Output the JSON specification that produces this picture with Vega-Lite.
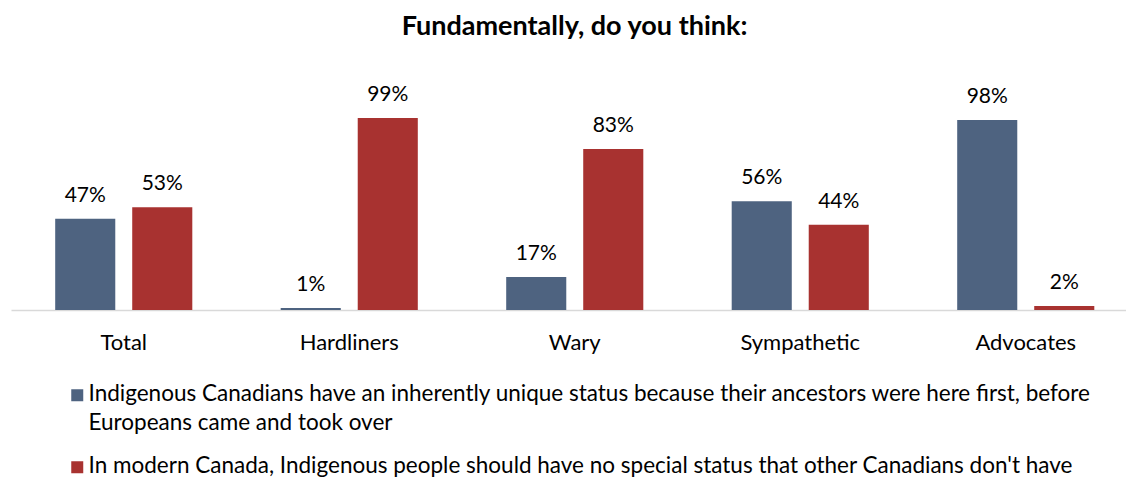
{
  "$schema": "https://vega.github.io/schema/vega-lite/v6.json",
  "autosize": "none",
  "width": 1115,
  "height": 194,
  "padding": {"left": 11, "top": 116, "right": 0, "bottom": 169},
  "background": "#ffffff",
  "title": {
    "text": "Fundamentally, do you think:",
    "frame": "group",
    "anchor": "middle",
    "baseline": "alphabetic",
    "offset": 22,
    "dx": 6,
    "font": "Lato",
    "fontSize": 27,
    "fontWeight": "bold",
    "color": "#000000"
  },
  "config": {
    "view": {"stroke": null},
    "style": {"guide-label": {"lineHeight": 29}}
  },
  "data": {
    "values": [
      {"group": "Total", "series": "Indigenous Canadians have an inherently unique status because their ancestors were here first, before Europeans came and took over", "pct": 0.47},
      {"group": "Total", "series": "In modern Canada, Indigenous people should have no special status that other Canadians don't have", "pct": 0.53},
      {"group": "Hardliners", "series": "Indigenous Canadians have an inherently unique status because their ancestors were here first, before Europeans came and took over", "pct": 0.01},
      {"group": "Hardliners", "series": "In modern Canada, Indigenous people should have no special status that other Canadians don't have", "pct": 0.99},
      {"group": "Wary", "series": "Indigenous Canadians have an inherently unique status because their ancestors were here first, before Europeans came and took over", "pct": 0.17},
      {"group": "Wary", "series": "In modern Canada, Indigenous people should have no special status that other Canadians don't have", "pct": 0.83},
      {"group": "Sympathetic", "series": "Indigenous Canadians have an inherently unique status because their ancestors were here first, before Europeans came and took over", "pct": 0.56},
      {"group": "Sympathetic", "series": "In modern Canada, Indigenous people should have no special status that other Canadians don't have", "pct": 0.44},
      {"group": "Advocates", "series": "Indigenous Canadians have an inherently unique status because their ancestors were here first, before Europeans came and took over", "pct": 0.98},
      {"group": "Advocates", "series": "In modern Canada, Indigenous people should have no special status that other Canadians don't have", "pct": 0.02}
    ]
  },
  "encoding": {
    "x": {
      "field": "group",
      "type": "nominal",
      "sort": ["Total", "Hardliners", "Wary", "Sympathetic", "Advocates"],
      "scale": {"range": [0, 1127.5], "paddingInner": 0.392, "paddingOuter": 0.196},
      "axis": {
        "title": null,
        "labelAngle": 0,
        "ticks": false,
        "tickSize": 0,
        "labelPadding": 39,
        "labelBaseline": "alphabetic",
        "labelFont": "Lato",
        "labelFontSize": 22,
        "labelColor": "#000000",
        "domainColor": "#d9d9d9",
        "domainWidth": 1.5,
        "grid": false
      }
    },
    "xOffset": {
      "field": "series",
      "type": "nominal",
      "sort": [
        "Indigenous Canadians have an inherently unique status because their ancestors were here first, before Europeans came and took over",
        "In modern Canada, Indigenous people should have no special status that other Canadians don't have"
      ],
      "scale": {"paddingInner": 0.22, "paddingOuter": 0}
    },
    "y": {
      "field": "pct",
      "type": "quantitative",
      "scale": {"domain": [0, 1], "nice": false, "zero": true},
      "axis": null
    }
  },
  "layer": [
    {
      "mark": {"type": "bar", "strokeWidth": 1, "strokeOpacity": 0.5},
      "encoding": {
        "color": {
          "field": "series",
          "type": "nominal",
          "sort": [
            "Indigenous Canadians have an inherently unique status because their ancestors were here first, before Europeans came and took over",
            "In modern Canada, Indigenous people should have no special status that other Canadians don't have"
          ],
          "scale": {"range": ["#4e6380", "#a83230"]},
          "legend": {
            "orient": "none",
            "legendX": 55,
            "legendY": 274,
            "direction": "vertical",
            "title": null,
            "padding": 0,
            "symbolType": "M-1,-2H1V0H-1Z",
            "symbolSize": 144,
            "symbolStrokeWidth": 0,
            "labelFont": "Lato",
            "labelFontSize": 22.5,
            "labelColor": "#000000",
            "labelLimit": 0,
            "labelOffset": 0,
            "labelBaseline": "alphabetic",
            "rowPadding": 20,
            "labelExpr": "split(replace(datum.label, 'before ', 'before|'), '|')"
          }
        }
      }
    },
    {
      "mark": {
        "type": "text",
        "baseline": "alphabetic",
        "dy": -17,
        "font": "Lato",
        "fontSize": 21,
        "color": "#000000"
      },
      "encoding": {
        "text": {"field": "pct", "type": "quantitative", "format": ".0%"}
      }
    }
  ]
}
